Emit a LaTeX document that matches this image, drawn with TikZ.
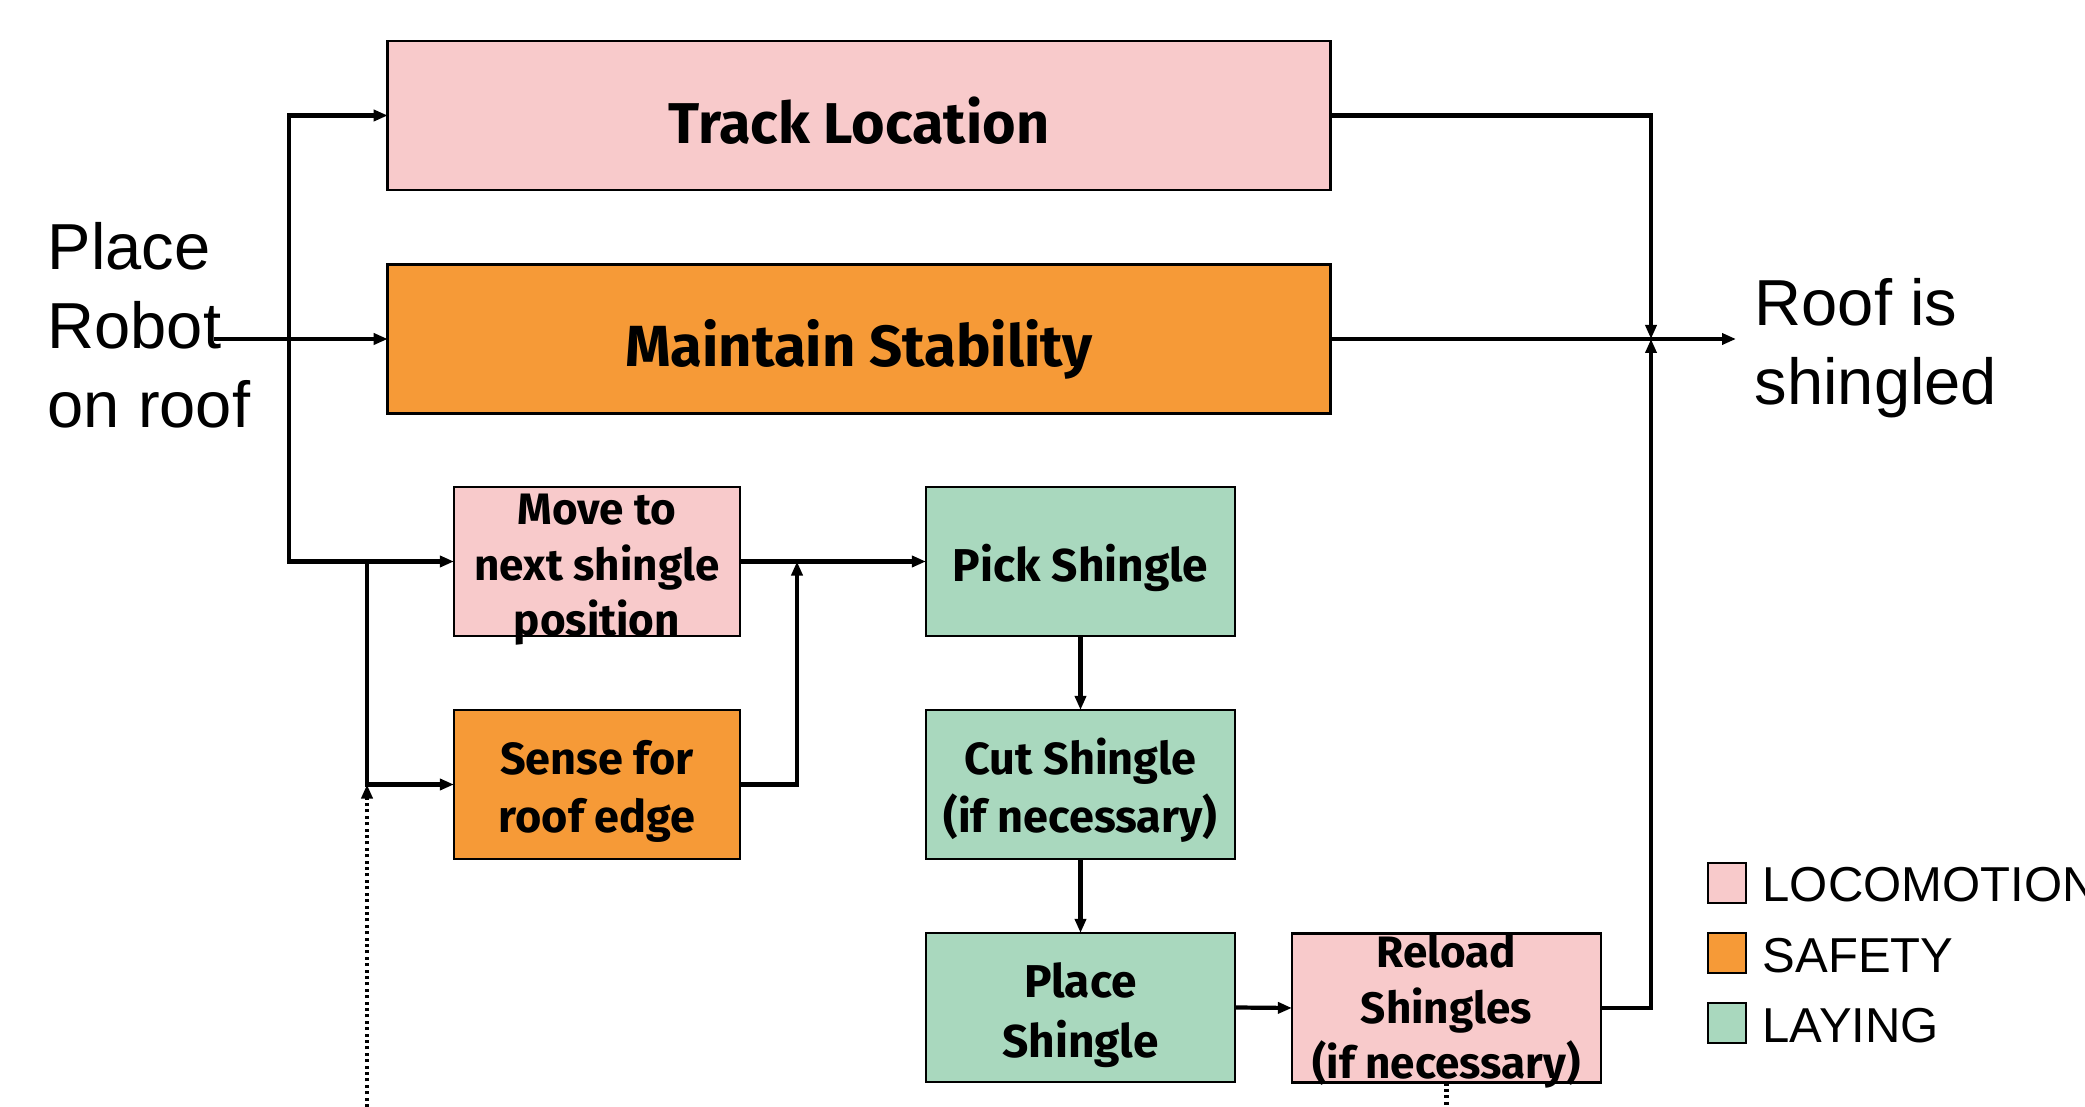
\documentclass[tikz,border=0pt]{standalone}
\usepackage{fontspec}
\setmainfont{Liberation Sans}
\newfontfamily\boxfont{Fira Sans}
\usetikzlibrary{arrows.meta}
\definecolor{loco}{HTML}{F8CACB}
\definecolor{safe}{HTML}{F69A37}
\definecolor{lay}{HTML}{A9D8BE}
\newcommand{\mytab}[4]{{\fontsize{#2}{#3}\selectfont\begin{tabular}[t]{@{}#1@{}}#4\end{tabular}}}
\tikzset{
  box/.style={draw=black, line width=0.75pt, inner sep=0pt, outer sep=0pt},
  wide/.style={minimum width=9.42cm, minimum height=1.49cm},
  narrowbox/.style={minimum width=2.86cm, minimum height=1.49cm},
  midbox/.style={minimum width=3.09cm, minimum height=1.49cm},
  legbox/.style={draw=black, line width=0.8pt, inner sep=0pt, minimum width=0.38cm, minimum height=0.40cm},
  lbl/.style={inner sep=0pt, anchor=base, font=\boxfont\bfseries},
  plain/.style={inner sep=0pt, anchor=base west},
  arr/.style={line width=1.2pt, -{Triangle[length=0.14cm, width=0.11cm]}},
  dotline/.style={line width=1.2pt, dash pattern=on 0.03cm off 0.034cm}
}
\begin{document}
\begin{tikzpicture}[x=0.01cm, y=-0.01cm]
\useasboundingbox (0,0) rectangle (2085,1107);

% boxes
\node[box, wide, fill=loco] (track) at (859,115.5) {};
\node[box, wide, fill=safe] (maintain) at (859,339) {};
\node[box, narrowbox, fill=loco] (move) at (597,561.5) {};
\node[box, narrowbox, fill=safe] (sense) at (597,784.5) {};
\node[box, midbox, fill=lay] (pick) at (1080.5,561.5) {};
\node[box, midbox, fill=lay] (cut) at (1080.5,784.5) {};
\node[box, midbox, fill=lay] (place) at (1080.5,1007.5) {};
\node[box, midbox, fill=loco] (reload) at (1446.5,1008) {};

% free ends and junctions
\coordinate (in) at (214,339);
\coordinate (lv) at (289,339);
\coordinate (br) at (367,561.5);
\coordinate (mg) at (797,561.5);
\coordinate (jn) at (1651,339);
\coordinate (out) at (1736,339);
\coordinate (dotbot) at (367,1107);
\coordinate (rbot) at (1446.5,1107);

% box labels
\node[lbl] (track-t) at (859,144) {\mytab{c}{0.575cm}{0.68cm}{Track Location}};
\node[lbl] (maintain-t) at (859,367) {\mytab{c}{0.58cm}{0.68cm}{Maintain Stability}};
\node[lbl] (move-t) at (597,525) {\mytab{c}{0.44cm}{0.55cm}{Move to\\next shingle\\position}};
\node[lbl] (sense-t) at (597,775) {\mytab{c}{0.45cm}{0.57cm}{Sense for\\roof edge}};
\node[lbl] (pick-t) at (1080.5,582) {\mytab{c}{0.46cm}{0.57cm}{Pick Shingle}};
\node[lbl] (cut-t) at (1080.5,775) {\mytab{c}{0.45cm}{0.57cm}{Cut Shingle\\(if necessary)}};
\node[lbl] (place-t) at (1080.5,997) {\mytab{c}{0.46cm}{0.60cm}{Place\\Shingle}};
\node[lbl] (reload-t) at (1446.5,968) {\mytab{c}{0.44cm}{0.55cm}{Reload\\Shingles\\(if necessary)}};

% plain texts
\node[plain] (start-t) at (47,270) {\mytab{l}{0.65cm}{0.785cm}{Place\\Robot\\on roof}};
\node[plain] (end-t) at (1754,326) {\mytab{l}{0.65cm}{0.78cm}{Roof is\\shingled}};

% legend
\node[legbox, fill=loco] (leg1) at (1727,883) {};
\node[legbox, fill=safe] (leg2) at (1727,953) {};
\node[legbox, fill=lay] (leg3) at (1727,1023) {};
\node[plain] (leg1-t) at (1762,902) {\fontsize{0.49cm}{0.59cm}\selectfont LOCOMOTION};
\node[plain] (leg2-t) at (1762,972) {\fontsize{0.49cm}{0.59cm}\selectfont SAFETY};
\node[plain] (leg3-t) at (1762,1042) {\fontsize{0.49cm}{0.59cm}\selectfont LAYING};

% connectors
\draw[arr] (in) -- (maintain.west);
\draw[arr] (lv) |- (track.west);
\draw[arr] (lv) |- (move.west);
\draw[arr] (br) |- (sense.west);
\draw[arr, dotline] (dotbot) -- (dotbot |- sense.west);
\draw[arr] (move.east) -- (pick.west);
\draw[arr] (sense.east) -| (mg);
\draw[arr] (pick.south) -- (cut.north);
\draw[arr] (cut.south) -- (place.north);
\draw[arr] (place.east) -- (reload.west);
\draw[arr] (reload.east) -| (jn);
\draw[arr] (track.east) -| (jn);
\draw[arr] (maintain.east) -- (out);
\draw[dotline] (reload.south) -- (rbot);
\end{tikzpicture}
\end{document}
